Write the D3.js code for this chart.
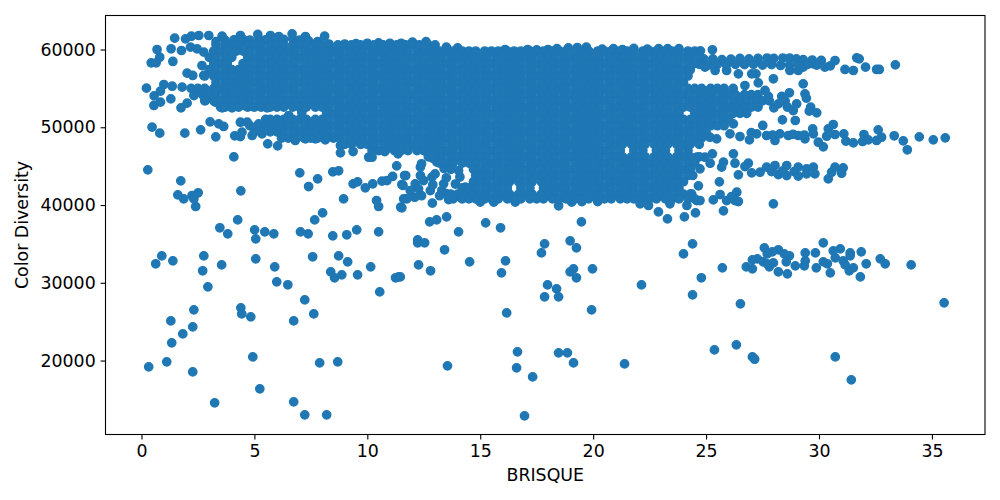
<!DOCTYPE html>
<html><head><meta charset="utf-8">
<script src="https://cdn.jsdelivr.net/npm/d3@7"></script>
<style>html,body{margin:0;padding:0;background:#fff}svg{display:block}text{font-family:"DejaVu Sans",sans-serif;fill:#000}</style>
</head><body><svg id="c" width="1000" height="500"></svg>
<script>
const xTicks=[0,5,10,15,20,25,30,35];
const yTicks=[20000,30000,40000,50000,60000];
const xLabel="BRISQUE", yLabel="Color Diversity";
const lowLeft=[[4.26,38090],[3.47,37070],[3.82,36290],[5.01,36810],[5.06,35650],[5.46,36550],[5.86,36290],[7.04,36550],[7.38,36290],[7.67,38090],[8.02,38990],[8.47,36040],[9.09,36170],[9.53,36810],[10.5,36550],[2.4,39810],[0.9,33460],[0.63,32440],[1.39,32820],[2.76,33460],[2.71,31540],[3.55,32300],[2.94,29480],[5.06,33080],[5.9,32050],[5.99,30120],[6.48,29740],[7.58,33340],[8.73,33460],[9.13,32690],[8.38,31410],[8.55,30640],[8.87,31020],[9.57,31020],[10.15,32050],[11.25,30640],[11.39,30760],[10.55,28830],[7.23,27800],[7.63,26000],[6.74,25100],[2.32,26520],[4.4,26780],[4.44,26000],[4.84,25620],[1.3,25100],[2.27,24330],[1.83,23430],[1.34,22280],[4.93,20470],[7.89,19700],[8.69,19830],[0.32,19190],[1.12,19830],[2.27,18540],[5.24,16360],[3.24,14560],[6.74,14690],[7.23,13020],[8.2,13020]];
const lowMiddle=[[12.88,40240],[11.53,39640],[12.76,37840],[13.07,38090],[13.51,38480],[14.04,36550],[15.24,37710],[15.9,37070],[19.48,37840],[18.47,39900],[22.89,39120],[23.29,38220],[24.04,38480],[24.53,38990],[12.23,35520],[12.23,35140],[12.54,35140],[13.42,34240],[17.85,35010],[17.71,33850],[18.98,35390],[19.26,34490],[24.4,35010],[24.0,33720],[12.27,32300],[12.8,31540],[14.53,32690],[16.12,32820],[15.94,31280],[19.13,31790],[18.98,31410],[19.26,30640],[19.97,31790],[11.46,30760],[17.98,29730],[18.38,29220],[17.85,28190],[18.47,28190],[22.14,29730],[24.79,30640],[24.4,28450],[19.93,26520],[16.17,26130],[16.65,21120],[18.47,20990],[18.86,20990],[16.61,19060],[19.13,19700],[17.32,17900],[13.55,19320],[21.39,19570],[16.96,12890]];
const lowRight=[[27.98,40150],[25.77,39250],[25.72,31920],[26.52,27290],[25.37,21370],[26.34,22020],[27.05,20470],[27.15,20170],[30.72,20470],[31.43,17520],[35.54,27420],[34.08,32300],[32.71,33080],[32.93,32440],[32.09,32440],[31.87,33980],[31.83,30760],[31.38,33850],[31.38,33470],[31.52,31920],[31.34,31540],[30.94,34360],[30.63,34110],[30.19,35140],[29.84,33850],[29.39,33850],[29.39,32820],[29.35,32180],[29.88,31920],[30.5,31280],[30.19,32690],[30.37,32440],[30.72,33210],[31.07,32820],[31.16,32300],[28.95,32180],[28.6,31150],[28.2,31410],[28.55,32690],[28.69,33470],[28.46,33720],[28.2,34240],[27.93,33980],[27.71,33720],[27.58,34490],[27.27,33080],[27.05,32950],[26.78,32050],[27.05,31790],[27.53,32690],[27.8,32050],[27.98,32560],[27.71,32440]];
const rightBands=[[24.75,59830],[25.28,59960],[30.71,58580],[31.67,58930],[31.78,58800],[32.06,57730],[31.52,57300],[31.15,57430],[32.55,57430],[32.67,57430],[33.38,58030],[30.26,57730],[29.75,58160],[29.3,57730],[29.08,57300],[28.71,57300],[27.21,56870],[27.02,56870],[26.43,56870],[25.91,57300],[25.4,57300],[24.95,57730],[27.98,56230],[29.3,55580],[29.38,54300],[29.44,53740],[29.63,52580],[29.57,52070],[29.9,51850],[28.95,50870],[28.38,50950],[27.31,55710],[26.72,55370],[27.61,54730],[27.76,53960],[28.69,54430],[28.35,53960],[29.01,53010],[28.86,52150],[28.2,53000],[28.5,53400],[28.0,52500],[28.6,52600],
[24.9,58800],[25.3,58800],[25.7,58700],[26.1,58750],[26.5,58850],[26.9,58800],[27.3,58850],[27.7,58900],[28.0,58850],[28.4,58900],[28.7,58900],[29.0,58800],[29.3,58700],[29.7,58650],[30.1,58600],[24.7,58100],[25.1,58000],[25.5,58100],[25.9,58000],[26.3,58100],[26.7,58050],[27.1,58100],[27.5,58000],[27.9,58050],[28.3,57950],[28.7,58000],[29.1,58000],[29.5,58100],[29.9,58000],[30.5,57900],
[30.63,50350],[30.41,49800],[29.72,49800],[27.51,50230],[32.62,49670],[31.99,49070],[32.77,48720],[32.55,48300],[31.93,48170],[32.18,48380],[31.52,47990],[31.19,48210],[31.1,49150],[30.71,49070],[30.34,48850],[33.33,48900],[33.73,48250],[33.91,47100],[34.44,48770],[35.06,48380],[35.59,48640],[30.19,47480],[29.97,48080],[29.75,49150],[29.38,48510],[29.08,48940],[28.64,48940],[28.27,49150],[28.05,48300],[27.68,48940],[27.24,49150],[26.92,48380],[26.5,48810],[26.06,49150],[25.47,48510],[25.17,48720],[24.66,48720],[26.21,50440],[28.85,49100],[27.95,49000],[27.0,49300],[29.35,49000],
[26.21,46580],[25.28,46580],[24.95,46150],[24.59,46150],[25.18,45380],[25.77,45510],[25.69,44870],[26.28,45380],[26.87,45380],[26.72,44950],[26.43,43880],[24.66,42470],[25.59,42980],[27.02,44140],[27.39,44220],[27.68,44870],[28.05,45080],[28.2,43920],[28.57,45080],[28.57,43790],[29.08,44870],[29.08,43710],[29.45,44650],[29.75,44870],[29.82,44010],[29.45,44000],[30.71,44870],[31.07,44780],[31.0,44090],[30.41,43370],[30.56,44220],[27.9,44300],[28.4,44400],[28.9,44300],[26.36,41650],[25.62,41350],[25.32,40660],[25.91,40580],[26.28,40580],[26.43,40450],[26.13,41090],[24.59,40580],[24.73,40580],[24.36,41440],[24.41,43800],[24.73,44650]];
const upperLeft=[[1.47,61460],[2.21,61710],[1.95,61370],[2.54,61800],[2.98,61800],[3.57,61710],[4.38,61800],[5.15,61930],[5.71,61800],[6.67,62010],[7.26,61670],[8.11,61710],[6.08,61670],[0.69,60000],[1.31,60090],[0.81,59010],[0.43,58280],[0.65,58280],[1.39,58460],[1.77,59870],[2.17,60300],[2.46,60090],[2.76,59660],[2.68,57940],[2.02,56960],[2.27,56660],[2.76,56660],[0.22,55030],[0.99,55500],[1.36,55280],[1.8,55160],[0.84,54640],[0.56,54040],[1.3,53650],[0.84,53230],[0.55,52800],[1.75,52500],[2.02,53100],[2.32,54080],[2.83,53440],[3.27,53230],[3.57,52500],[4.01,52500],[4.53,52800],[4.9,52670],[5.56,52500],[6.08,53010],[6.52,53010],[6.96,52800],[0.47,50010],[0.81,49240],[1.92,49240],[2.62,49670],[3.04,50700],[3.42,50440],[3.64,50100],[3.29,48770],[4.13,48900],[4.38,48810],[4.45,49370],[4.38,50650],[4.68,50650],[4.9,48940],[5.19,50440],[5.63,50870],[6.08,50870],[6.52,51510],[7.1,51900],[5.34,49150],[5.59,47870],[6.03,47610],[6.81,48300],[7.26,48510],[7.7,48510],[8.14,48380],[8.58,48720],[8.81,47650],[8.81,46710],[9.37,46880],[10.06,46150],[10.21,46150],[10.21,47010],[9.76,47870],[10.77,46880],[11.36,46580],[4.09,46190],[0.28,44520],[7.01,44140],[7.8,43370],[7.4,42380],[8.47,44270],[8.73,44400],[9.37,42720],[9.57,42980],[9.91,42210],[10.24,42720],[10.65,43070],[10.87,43150],[11.12,43670],[11.3,45040],[11.65,43790],[11.53,42640],[1.74,43110],[1.61,41310],[1.87,40790],[2.24,41220],[2.51,41570],[2.32,40790],[4.4,41820],[8.95,40790],[10.41,40580],[10.5,39810],[11.48,39720],[11.61,40790]];
const lowerEdge=[[11.7,43790],[11.58,42510],[11.75,40790],[12.35,44870],[12.35,43790],[12.12,42720],[12.27,42080],[12.86,43580],[13.08,45510],[13.38,42720],[13.52,41440],[14.04,44440],[14.34,42290],[14.56,41010],[14.1,41010],[13.3,41860],[12.49,43150],[11.9,41860],[12.79,41860],[12.9,46000],[12.4,45300],[13.4,44700],[13.0,44000],[13.5,43500],[14.1,43600],[13.9,42700],[12.9,42600],[13.2,41200],[12.4,41200],[12.1,41000],[13.6,40700],[15,40370],[15.6,40370],[16.55,40370],[19.05,40370],[19.5,40450],[20.2,40450],[22.08,40150],[22.45,39940],[23.4,40150],[24.15,39940]];
const topEdge=[[13.5,60300],[14.0,60200],[16.1,60000],[17.1,60000],[17.5,59950],[18.0,60000],[18.4,60100],[18.9,60200],[19.3,60250],[19.7,60300],[20.4,60050],[20.9,60100],[21.3,60000],[21.8,60150],[22.4,60050],[22.9,60100],[23.3,60100],[23.8,60100],[3.7,61200],[4.1,61250],[4.5,61300],[4.8,61200],[5.2,61300],[5.5,61250],[5.9,61200],[6.3,61300],[6.7,61350],[7.0,61200],[7.4,61100],[7.8,61000],[3.3,61000],[8.3,60700],[9.0,60700],[9.5,60750],[10.0,60800],[10.5,60850],[11.0,60800],[11.5,60800],[12.0,60950],[12.6,61000]];
const denseLevels=[60600,59800,59000,58200,57400,56600,55800,55000,54200,53400,52600,51800,51000,50200,49400,48600,47800,47000,46200,45400,44600,43800,43000,42200,41400,40800];
const denseRows=[
[3.3,3.7,4,4.3,4.7,5,5.3,5.7,6,6.3,6.7,7,7.3,7.7,8,8.3,8.7,9,9.3,9.7,10,10.3,10.7,11,11.3,11.7,12,12.3,12.7,13],
[3.2,3.5,3.8,4.2,4.5,4.8,5.2,5.5,5.8,6.2,6.5,6.8,7.2,7.5,7.8,8.2,8.5,8.8,9.2,9.5,9.8,10.2,10.5,10.8,11.2,11.5,11.8,12.2,12.5,12.8,13.2,13.5,13.8,14.2,14.5,14.8,15.2,15.5,15.8,16.2,16.5,16.8,17.2,17.5,17.8,18.2,18.5,18.8,19.2,19.5,19.8,20.2,20.5,20.8,21.2,21.5,21.8,22.2,22.5,22.8,23.2,23.5,23.8,24.2,24.5],
[3,3.3,3.7,4,4.7,5,5.3,5.7,6,6.3,6.7,7,7.3,7.7,8,8.3,8.7,9,9.3,9.7,10,10.3,10.7,11,11.3,11.7,12,12.3,12.7,13,13.3,13.7,14,14.3,14.7,15,15.3,15.7,16,16.3,16.7,17,17.3,17.7,18,18.3,18.7,19,19.3,19.7,20,20.3,20.7,21,21.3,21.7,22,22.3,22.7,23,23.3,23.7,24,24.3,24.7],
[3.2,3.5,3.8,4.5,4.8,5.2,5.5,5.8,6.2,6.5,6.8,7.2,7.5,7.8,8.2,8.5,8.8,9.2,9.5,9.8,10.2,10.5,10.8,11.2,11.5,11.8,12.2,12.5,12.8,13.2,13.5,13.8,14.2,14.5,14.8,15.2,15.5,15.8,16.2,16.5,16.8,17.2,17.5,17.8,18.2,18.5,18.8,19.2,19.5,19.8,20.2,20.5,20.8,21.2,21.5,21.8,22.2,22.5,22.8,23.2,23.5,23.8,24.2,24.5],
[3,3.3,3.7,4,4.3,4.7,5,5.3,5.7,6,6.3,6.7,7,7.3,7.7,8,8.3,8.7,9,9.3,9.7,10,10.3,10.7,11,11.3,11.7,12,12.3,12.7,13,13.3,13.7,14,14.3,14.7,15,15.3,15.7,16,16.3,16.7,17,17.3,17.7,18,18.3,18.7,19,19.3,19.7,20,20.3,20.7,21,21.3,21.7,22,22.3,22.7,23,23.3,23.7,24,24.3],
[2.8,3.2,3.5,3.8,4.2,4.5,4.8,5.2,5.5,5.8,6.2,6.5,6.8,7.2,7.5,7.8,8.2,8.5,8.8,9.2,9.5,9.8,10.2,10.5,10.8,11.2,11.5,11.8,12.2,12.5,12.8,13.2,13.5,13.8,14.2,14.5,14.8,15.2,15.5,15.8,16.2,16.5,16.8,17.2,17.5,17.8,18.2,18.5,18.8,19.2,19.5,19.8,20.2,20.5,20.8,21.2,21.5,21.8,22.2,22.5,22.8,23.2,23.5,23.8,24.2],
[3.3,3.7,4,4.3,4.7,5,5.3,5.7,6,6.3,6.7,7,7.3,7.7,8,8.3,8.7,9,9.3,9.7,10,10.3,10.7,11,11.3,11.7,12,12.3,12.7,13,13.3,13.7,14,14.3,14.7,15,15.3,15.7,16,16.3,16.7,17,17.3,17.7,18,18.3,18.7,19,19.3,19.7,20,20.3,20.7,21,21.3,21.7,22,22.3,22.7,23,23.3,23.7,24],
[2.2,2.5,2.8,3.2,3.5,3.8,4.2,4.5,4.8,5.2,5.5,5.8,6.2,6.5,6.8,7.2,7.5,7.8,8.2,8.5,8.8,9.2,9.5,9.8,10.2,10.5,10.8,11.2,11.5,11.8,12.2,12.5,12.8,13.2,13.5,13.8,14.2,14.5,14.8,15.2,15.5,15.8,16.2,16.5,16.8,17.2,17.5,17.8,18.2,18.5,18.8,19.2,19.5,19.8,20.2,20.5,20.8,21.2,21.5,21.8,22.2,22.5,22.8,23.2,23.5,23.8,24.2,24.5,24.8,25.2,25.5,25.8,26.2],
[2.7,3,3.3,3.7,4,4.3,4.7,5,5.3,5.7,6,6.3,6.7,7,7.3,7.7,8,8.3,8.7,9,9.3,9.7,10,10.3,10.7,11,11.3,11.7,12,12.3,12.7,13,13.3,13.7,14,14.3,14.7,15,15.3,15.7,16,16.3,16.7,17,17.3,17.7,18,18.3,18.7,19,19.3,19.7,20,20.3,20.7,21,21.3,21.7,22,22.3,22.7,23,23.3,23.7,24,24.3,24.7,25,25.3,25.7,26,26.3,26.7,27,27.3],
[2.8,3.2,3.5,3.8,4.2,4.5,4.8,5.2,5.5,5.8,6.2,6.5,6.8,7.2,7.5,7.8,8.2,8.5,8.8,9.2,9.5,9.8,10.2,10.5,10.8,11.2,11.5,11.8,12.2,12.5,12.8,13.2,13.5,13.8,14.2,14.5,14.8,15.2,15.5,15.8,16.2,16.5,16.8,17.2,17.5,17.8,18.2,18.5,18.8,19.2,19.5,19.8,20.2,20.5,20.8,21.2,21.5,21.8,22.2,22.5,22.8,23.2,23.5,23.8,24.2,24.5,24.8,25.2,25.5,25.8,26.2,26.5,26.8,27.2,27.5,27.8],
[3.5,3.7,4,4.3,4.7,5,5.3,5.7,6,6.3,6.7,7,7.3,7.7,8,8.3,8.7,9,9.3,9.7,10,10.3,10.7,11,11.3,11.7,12,12.3,12.7,13,13.3,13.7,14,14.3,14.7,15,15.3,15.7,16,16.3,16.7,17,17.3,17.7,18,18.3,18.7,19,19.3,19.7,20,20.3,20.7,21,21.3,21.7,22,22.3,22.7,23,23.3,23.7,24,24.3,24.7,25,25.3,25.7,26,26.3,26.7,27,27.3],
[8.2,8.5,8.8,9.2,9.5,9.8,10.2,10.5,10.8,11.2,11.5,11.8,12.2,12.5,12.8,13.2,13.5,13.8,14.2,14.5,14.8,15.2,15.5,15.8,16.2,16.5,16.8,17.2,17.5,17.8,18.2,18.5,18.8,19.2,19.5,19.8,20.2,20.5,20.8,21.2,21.5,21.8,22.2,22.5,22.8,23.2,23.5,23.8,24.5,24.8,25.2,25.5,25.8,26.2,26.5,26.8],
[5.5,5.7,6,6.3,6.7,7,7.3,7.7,8,8.3,8.7,9,9.3,9.7,10,10.3,10.7,11,11.3,11.7,12,12.3,12.7,13,13.3,13.7,14,14.3,14.7,15,15.3,15.7,16,16.3,16.7,17,17.3,17.7,18,18.3,18.7,19,19.3,19.7,20,20.3,20.7,21,21.3,21.7,22,22.3,22.7,23,23.3,23.7,24,24.3,24.7,25,25.3,25.7,26],
[4.8,5.2,5.5,5.8,6.2,6.5,6.8,7.2,7.5,7.8,8.2,8.5,8.8,9.2,9.5,9.8,10.2,10.5,10.8,11.2,11.5,11.8,12.2,12.5,12.8,13.2,13.5,13.8,14.2,14.5,14.8,15.2,15.5,15.8,16.2,16.5,16.8,17.2,17.5,17.8,18.2,18.5,18.8,19.2,19.5,19.8,20.2,20.5,20.8,21.2,21.5,21.8,22.2,22.5,22.8,23.2,23.5,23.8,24.2,24.5,24.8,25.2,25.5,25.8],
[5,5.3,5.7,6,6.3,6.7,7,7.3,7.7,8,8.3,8.7,9,9.3,9.7,10,10.3,10.7,11,11.3,11.7,12,12.3,12.7,13,13.3,13.7,14,14.3,14.7,15,15.3,15.7,16,16.3,16.7,17,17.3,17.7,18,18.3,18.7,19,19.3,19.7,20,20.3,20.7,21,21.3,21.7,22,22.3,22.7,23,23.3,23.7,24,24.3,24.7,25],
[6.2,6.5,6.8,7.2,7.5,7.8,8.2,8.5,8.8,9.2,9.5,9.8,10.2,10.5,10.8,11.2,11.5,11.8,12.2,12.5,12.8,13.2,13.5,13.8,14.2,14.5,14.8,15.2,15.5,15.8,16.2,16.5,16.8,17.2,17.5,17.8,18.2,18.5,18.8,19.2,19.5,19.8,20.2,20.5,20.8,21.2,21.5,21.8,22.2,22.5,22.8,23.2,23.5,23.8,24.2,24.5,24.8],
[9,9.3,9.7,10,10.3,10.7,11,11.3,11.7,12,12.3,12.7,13,13.3,13.7,14,14.3,14.7,15,15.3,15.7,16,16.3,16.7,17,17.3,17.7,18,18.3,18.7,19,19.3,19.7,20,20.3,20.7,21,21.3,21.7,22,22.3,22.7,23,23.3,23.7,24,24.3,24.7],
[10.5,10.8,11.2,11.5,11.8,12.2,12.5,12.8,13.2,13.5,13.8,14.2,14.5,14.8,15.2,15.5,15.8,16.2,16.5,16.8,17.2,17.5,17.8,18.2,18.5,18.8,19.2,19.5,19.8,20.2,20.5,20.8,21.2,21.8,22.2,22.8,23.2,23.8,24.2],
[12.7,13,13.3,13.7,14,14.3,14.7,15,15.3,15.7,16,16.3,16.7,17,17.3,17.7,18,18.3,18.7,19,19.3,19.7,20,20.3,20.7,21,21.3,21.7,22,22.3,22.7,23,23.3,23.7,24,24.3,24.7],
[13.2,13.5,13.8,14.2,14.5,14.8,15.2,15.5,15.8,16.2,16.5,16.8,17.2,17.5,17.8,18.2,18.5,18.8,19.2,19.5,19.8,20.2,20.5,20.8,21.2,21.5,21.8,22.2,22.5,22.8,23.2,23.5,23.8,24.2,24.5],
[13.7,14.7,15,15.3,15.7,16,16.3,16.7,17,17.3,17.7,18,18.3,18.7,19,19.3,19.7,20,20.3,20.7,21,21.3,21.7,22,22.3,22.7,23,23.3,23.7,24,24.3],
[14.8,15.2,15.5,15.8,16.2,16.5,16.8,17.2,17.5,17.8,18.2,18.5,18.8,19.2,19.5,19.8,20.2,20.5,20.8,21.2,21.5,21.8,22.2,22.5,22.8,23.2,23.5,23.8,24.2],
[14.7,15,15.3,15.7,16,16.3,16.7,17,17.3,17.7,18,18.3,18.7,19,19.3,19.7,20,20.3,20.7,21,21.3,21.7,22,22.3,22.7,23,23.3,23.7,24],
[14.2,14.5,14.8,15.2,15.5,15.8,16.2,16.8,17.2,17.8,18.2,18.5,18.8,19.2,19.5,19.8,20.2,20.5,20.8,21.2,21.5,21.8,22.2,22.5,22.8,23.2,23.5,23.8],
[13.7,14,14.3,14.7,15,15.3,15.7,16,16.3,16.7,17,17.3,17.7,18,18.3,18.7,19,19.3,19.7,20,20.3,20.7,21,21.3,21.7,22,22.3,22.7,23,23.3,23.7,24,24.3],
[13.8,14.2,14.5,14.8,15.2,15.5,15.8,16.2,16.5,16.8,17.2,17.5,17.8,18.2,18.5,18.8,19.2,19.5,19.8,20.2,20.5,20.8,21.2,21.5,21.8,22.2,22.5,22.8,23.2,23.5,23.8,24.2,24.5]
];
const brisque=[], colorDiversity=[];
[lowLeft,lowMiddle,lowRight,rightBands,upperLeft,lowerEdge,topEdge].forEach(g=>g.forEach(p=>{brisque.push(p[0]);colorDiversity.push(p[1]);}));
denseRows.forEach((r,i)=>r.forEach(v=>{brisque.push(v);colorDiversity.push(denseLevels[i]);}));

const L=105.5,R=985,T=15.5,B=434.5;
const x=d3.scaleLinear().domain([-1.593,37.35]).range([L,R]);
const y=d3.scaleLinear().domain([10490,64372]).range([B,T]);
const svg=d3.select("#c");
svg.append("g").selectAll("circle").data(d3.range(brisque.length)).join("circle")
 .attr("cx",i=>x(brisque[i])).attr("cy",i=>y(colorDiversity[i]))
 .attr("r",4.17).attr("fill","#1f77b4").attr("stroke","#1f77b4").attr("stroke-width",1.39);
const ax=svg.append("g").attr("transform",`translate(0,${B})`).call(d3.axisBottom(x).tickValues(xTicks).tickFormat(d3.format("d")).tickSize(4.9).tickPadding(4.9));
const ay=svg.append("g").attr("transform",`translate(${L},0)`).call(d3.axisLeft(y).tickValues(yTicks).tickFormat(d3.format("d")).tickSize(4.9).tickPadding(4.9));
[ax,ay].forEach(a=>{a.select(".domain").remove();a.selectAll("line").attr("stroke","#000").attr("stroke-width",1.1);a.selectAll("text").style("font-family",'"DejaVu Sans"').style("font-size","17.36px").attr("fill","#000");});
svg.append("rect").attr("x",L).attr("y",T).attr("width",R-L).attr("height",B-T).attr("fill","none").attr("stroke","#000").attr("stroke-width",1.1);
svg.append("text").attr("x",(L+R)/2).attr("y",481).attr("text-anchor","middle").style("font-size","17.36px").text(xLabel);
svg.append("text").attr("transform",`translate(28.4,225) rotate(-90)`).attr("text-anchor","middle").style("font-size","17.36px").text(yLabel);
</script></body></html>
